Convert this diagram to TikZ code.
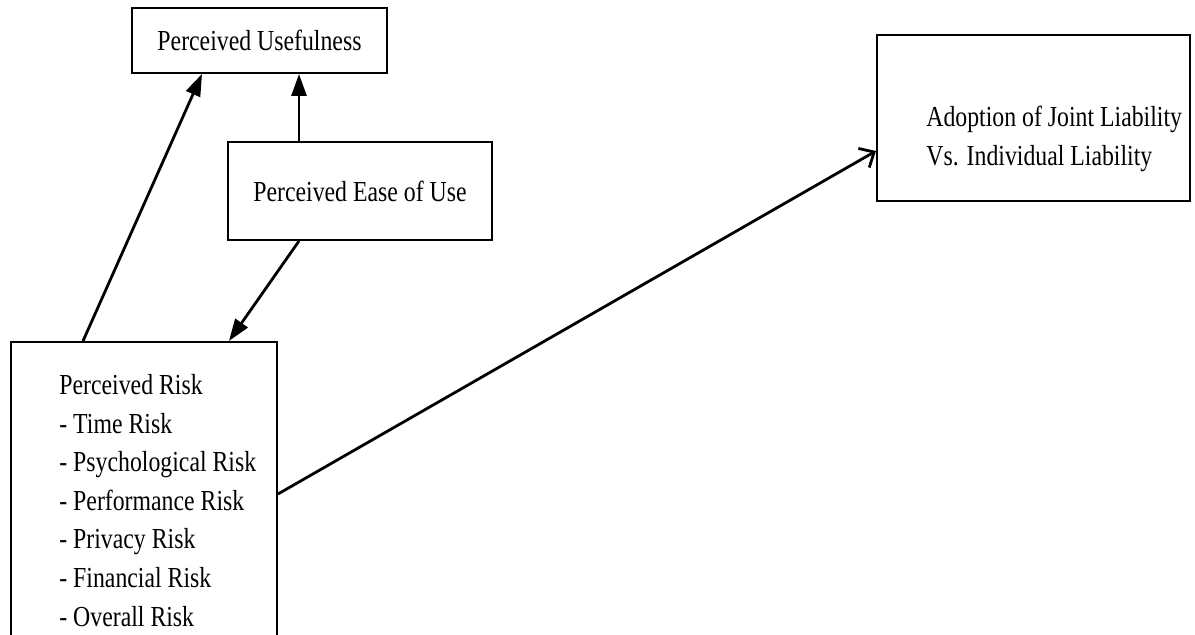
\documentclass[tikz,border=0pt]{standalone}
\usepackage{fontspec}
\setmainfont[FakeStretch=0.82]{Liberation Serif}
\usepackage{tikz}
\usetikzlibrary{arrows.meta}

\begin{document}
\begin{tikzpicture}[x=0.5pt, y=-0.5pt,
    box/.style={draw, line width=1pt, inner sep=0pt},
    txt/.style={inner sep=0pt, font=\fontsize{14.5}{19.3}\selectfont},
    link/.style={line width=1.4pt, -{Triangle[length=11pt, width=7.5pt]}},
    openlink/.style={line width=1.4pt, -{Straight Barb[length=6pt, width=11pt, line width=1.4pt]}}]
    \useasboundingbox (0,0) rectangle (1195,635);
    % constructs
    \node[box, txt, minimum width=127.5pt, minimum height=32.5pt] (pu) at (259.5,40.5) {Perceived Usefulness};
    \node[box, txt, minimum width=132pt, minimum height=49pt] (peou) at (360,191) {Perceived Ease of Use};
    \node[box, minimum width=133pt, minimum height=160pt, anchor=north west] (pr) at (10,341) {};
    \node[txt, align=left, anchor=north west] (prtext) at (59,374) {Perceived Risk\\- Time Risk\\- Psychological Risk\\- Performance Risk\\- Privacy Risk\\- Financial Risk\\- Overall Risk};
    \node[box, minimum width=156.5pt, minimum height=83pt] (adopt) at (1033.5,118) {};
    \node[txt, align=left, anchor=north west] (adopttext) at (926,106) {Adoption of Joint Liability\\Vs. Individual Liability};
    % relations
    \draw[link] ([xshift=36.5pt]pr.north west) -- ([xshift=-28.75pt]pu.south);
    \draw[link] ([xshift=-30.5pt]peou.north) -- ([xshift=-30.5pt]peou.north |- pu.south);
    \draw[link] ([xshift=-30.5pt]peou.south) -- ([xshift=109.5pt]pr.north west);
    \draw[openlink] ([yshift=-76.5pt]pr.north east) -- ([yshift=-16.5pt]adopt.west);
\end{tikzpicture}
\end{document}
